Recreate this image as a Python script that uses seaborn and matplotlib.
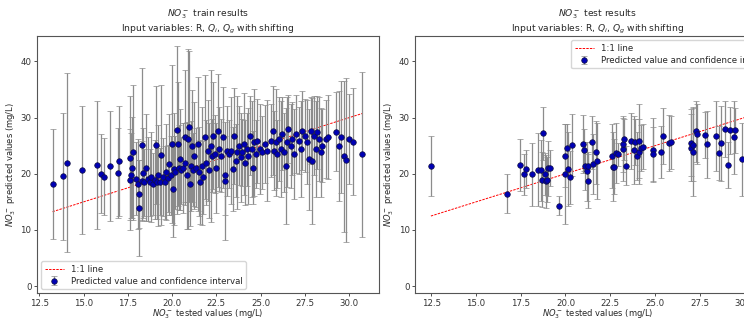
import matplotlib
matplotlib.use("Agg")
import matplotlib.pyplot as plt
import seaborn as sns
import pandas as pd

# ---- train set: tested value, predicted value, half-width of confidence interval
train_tested = [
    13.25, 13.86, 14.05, 14.93, 15.74, 16.0, 16.13, 16.52, 16.92, 17.01,
    17.6, 17.65, 17.7, 17.74, 17.8, 17.98, 18.08, 18.13, 18.13, 18.32, 18.32, 18.36, 18.4, 18.5,
    18.64, 18.73, 18.83, 18.92, 19.01, 19.07, 19.14, 19.2, 19.33, 19.4, 19.48, 19.57, 19.67, 19.76, 19.82,
    19.95, 20.0, 20.04, 20.1, 20.19, 20.27, 20.32, 20.38, 20.45, 20.51, 20.6, 20.7, 20.75, 20.83, 20.89,
    20.98, 21.02, 21.07, 21.13, 21.17,
    21.26, 21.35, 21.45, 21.54, 21.6, 21.69, 21.77, 21.86, 21.92, 22.01, 22.1, 22.18, 22.25, 22.33,
    22.4, 22.48, 22.57,
    22.66, 22.78, 22.89, 22.98, 23.0, 23.08, 23.19, 23.32, 23.41, 23.51, 23.6, 23.69, 23.79, 23.88,
    23.97, 24.05, 24.12, 24.2, 24.31,
    24.41, 24.5, 24.57, 24.63, 24.72, 24.82, 24.95, 25.1, 25.25, 25.38, 25.57, 25.7, 25.77, 25.85,
    25.94, 26.04, 26.13, 26.22, 26.32, 26.41, 26.5, 26.56,
    26.69, 26.78, 26.88, 27.01, 27.16, 27.25, 27.35, 27.5, 27.63, 27.72, 27.83, 27.91, 28.0, 28.1,
    28.19, 28.28, 28.38, 28.47,
    28.66, 28.81, 29.27, 29.44, 29.52, 29.69, 29.82, 30.0, 30.21, 30.72,
]
train_pred = [
    18.2, 19.55, 22.0, 20.6, 21.5, 20.0, 19.5, 21.4, 20.2, 22.3,
    18.95, 22.8, 19.7, 21.1, 23.8, 19.1, 18.2, 16.4, 13.9, 25.2, 18.8, 20.1, 18.5, 21.1,
    19.1, 18.5, 19.4, 18.2, 18.95, 25.1, 18.5, 19.7, 18.6, 23.3, 19.4, 18.5, 20.3, 19.2, 21.7,
    19.7, 25.3, 17.3, 20.9, 20.3, 27.8, 25.3, 21.1, 22.6, 20.6, 21.0, 26.5, 22.0, 19.7, 26.2,
    28.4, 18.2, 21.4, 25.0, 20.7,
    23.2, 21.1, 25.3, 20.4, 18.6, 21.4, 19.4, 26.5, 22.0, 24.1, 20.6, 25.0, 23.2, 26.8,
    23.5, 21.1, 27.7,
    24.4, 23.2, 26.5, 19.7, 18.7, 24.1, 23.5, 24.1, 20.9, 26.7, 22.3, 23.8, 25.0, 22.9,
    23.8, 25.3, 22.0, 24.4, 23.2,
    26.8, 24.4, 21.1, 25.6, 23.5, 25.9, 24.4, 23.8, 25.3, 24.1, 25.9, 27.7, 24.1, 25.6,
    23.5, 26.2, 24.4, 27.1, 23.8, 21.4, 25.6, 27.95,
    25.0, 26.2, 23.5, 27.1, 25.9, 24.4, 27.7, 26.8, 25.6, 22.6, 27.7, 22.3, 26.8, 24.4,
    27.4, 26.2, 23.8, 25.0,
    26.2, 26.5, 27.5, 25.0, 26.5, 23.1, 22.5, 26.2, 25.7, 23.5,
]
train_ci = [
    9.8, 11.3, 15.9, 11.4, 11.4, 7.0, 6.8, 9.8, 8.0, 9.8,
    9.0, 11.0, 7.5, 9.0, 12.0, 6.5, 8.0, 6.0, 8.5, 13.6, 7.0, 8.0, 6.0, 9.5,
    7.5, 6.0, 8.0, 5.5, 7.0, 10.5, 6.5, 9.0, 6.0, 12.5, 7.0, 6.5, 8.5, 6.0, 9.0,
    7.0, 14.0, 8.5, 10.0, 6.5, 15.0, 11.0, 7.5, 9.0, 6.0, 8.0, 12.0, 7.0, 9.5, 16.0,
    13.5, 7.5, 8.0, 10.0, 6.5,
    9.5, 7.0, 12.0, 8.0, 7.5, 10.5, 6.5, 11.0, 7.5, 9.0, 8.5, 13.5, 6.5, 9.5,
    7.0, 8.0, 10.0,
    7.5, 6.5, 9.0, 7.0, 10.5, 8.0, 6.0, 9.5, 7.5, 8.5, 6.5, 10.0, 7.0, 8.0,
    6.0, 9.0, 7.5, 6.5, 8.5,
    7.0, 8.5, 6.5, 9.5, 6.0, 7.5, 8.0, 6.5, 7.0, 9.0, 6.5, 8.0, 7.0, 9.5,
    6.0, 7.5, 8.5, 6.5, 7.0, 10.3, 8.0, 6.0,
    7.5, 6.5, 8.0, 7.0, 6.0, 8.5, 7.0, 6.5, 7.5, 9.0, 6.0, 11.2, 7.0, 8.5,
    6.5, 7.5, 8.0, 6.5,
    7.0, 7.5, 7.0, 9.8, 10.0, 13.4, 14.6, 8.0, 9.5, 14.7,
]

# ---- test set
test_tested = [
    12.48, 16.73, 17.46, 17.66, 17.81, 18.14, 18.44, 18.61, 18.67, 18.76, 18.85, 18.91, 18.96,
    19.04, 19.15, 19.63, 19.97, 19.97, 20.06, 20.12, 20.25, 20.34, 20.96, 21.05, 21.12, 21.18,
    21.24, 21.24, 21.46, 21.55, 21.7, 21.76, 22.61, 22.67, 22.73, 22.82, 22.95, 23.23, 23.23,
    23.25, 23.36, 23.69, 23.81, 23.88, 23.99, 24.1, 24.12, 24.22, 24.35, 24.92, 24.92, 25.33,
    25.48, 25.8, 25.89, 26.99, 27.01, 27.14, 27.14, 27.29, 27.33, 27.81, 27.9, 28.41, 28.57,
    28.68, 28.91, 29.09, 29.21, 29.43, 29.5, 29.88, 30.45, 31.0,
]
test_pred = [
    21.38, 16.47, 21.56, 19.9, 20.79, 19.9, 20.73, 20.6, 18.95, 27.18, 19.96, 18.66, 18.95,
    20.97, 21.08, 14.28, 19.96, 23.2, 24.52, 20.85, 19.37, 25.17, 25.29, 24.22, 21.38, 20.43,
    21.32, 18.72, 25.58, 21.74, 23.81, 22.33, 23.1, 21.26, 21.26, 23.69, 23.45, 24.4, 25.3,
    26.12, 21.44, 25.82, 24.22, 25.58, 23.16, 25.82, 23.93, 24.52, 24.81, 24.28, 23.51, 23.87,
    26.77, 25.47, 25.58, 25.53, 24.64, 25.17, 23.93, 27.54, 27.12, 26.89, 25.23, 26.71, 23.75,
    25.41, 27.95, 21.56, 27.77, 26.47, 27.77, 22.62, 23.0, 27.0,
]
test_ci = [
    5.3, 3.5, 4.6, 3.6, 3.4, 5.6, 6.5, 5.5, 4.9, 4.7, 3.8, 4.7, 4.0,
    4.9, 3.2, 1.7, 8.9, 5.6, 4.4, 6.5, 4.7, 5.5, 5.2, 3.7, 4.3, 5.2,
    2.5, 4.8, 4.7, 5.3, 5.6, 6.8, 5.7, 6.1, 4.9, 5.4, 2.1, 5.6, 5.0,
    3.6, 3.5, 5.0, 6.1, 4.1, 4.2, 6.6, 5.8, 4.1, 4.0, 5.6, 4.9, 4.7,
    5.0, 5.0, 4.7, 6.0, 6.0, 6.5, 7.9, 5.4, 5.3, 4.1, 6.0, 6.2, 4.8,
    6.7, 5.0, 4.1, 4.2, 6.5, 4.0, 6.5, 5.5, 5.0,
]

sns.set_style("ticks")
plt.rcParams["font.family"] = ["DejaVu Sans"]
plt.rcParams["font.size"] = 6.2
plt.rcParams["mathtext.fontset"] = "dejavusans"

fig = plt.figure(figsize=(7.44, 3.2), dpi=100)
# right panel runs past the figure edge, as in the reference
ax1 = fig.add_axes([0.0497, 0.083, 0.4597, 0.804])
ax2 = fig.add_axes([0.558, 0.083, 0.4906, 0.804])


def draw_panel(ax, tested, pred, ci, kind, xlim, legend_loc):
    df = pd.DataFrame({"tested": tested, "pred": pred, "ci": ci})
    lo, hi = df["tested"].min(), df["tested"].max()
    ax.plot([lo, hi], [lo, hi], color="red", lw=0.7,
            linestyle=(0, (2.5, 1.2)), label="1:1 line")
    ax.errorbar(df["tested"], df["pred"], yerr=df["ci"], fmt="o",
                ms=4.0, mfc="#0000b4", mec="#101040", mew=0.5,
                ecolor="#8c8c8c", elinewidth=0.9, capsize=2.2, capthick=0.9,
                label="Predicted value and confidence interval")
    ax.set_xlim(*xlim)
    ax.set_ylim(-1.3, 44.5)
    ax.set_yticks([0, 10, 20, 30, 40])
    ax.set_xticks([12.5, 15.0, 17.5, 20.0, 22.5, 25.0, 27.5, 30.0])
    ax.set_xticklabels(["12.5", "15.0", "17.5", "20.0", "22.5", "25.0", "27.5", "30.0"])
    ax.set_xlabel(r"$NO_3^-$ tested values (mg/L)", labelpad=0, fontsize=6)
    ax.set_ylabel(r"$NO_3^-$ predicted values (mg/L)", labelpad=2, fontsize=6)
    ax.set_title(r"$NO_3^-$ " + kind + " results\n"
                 r"Input variables: R, $Q_i$, $Q_g$ with shifting",
                 fontsize=6.6, pad=3)
    ax.tick_params(length=2.5, width=0.6, pad=1.5, colors="#333333")
    for s in ax.spines.values():
        s.set_color("#555555")
        s.set_linewidth(0.8)
    ax.legend(loc=legend_loc, fontsize=6.2, frameon=True, framealpha=0.8,
              edgecolor="#cccccc", handlelength=2.2, borderpad=0.4,
              labelspacing=0.35)


draw_panel(ax1, train_tested, train_pred, train_ci, "train", (12.37, 31.68), "lower left")
draw_panel(ax2, test_tested, test_pred, test_ci, "test", (11.6, 32.0), "upper right")

fig.savefig("out.png", dpi=100)
